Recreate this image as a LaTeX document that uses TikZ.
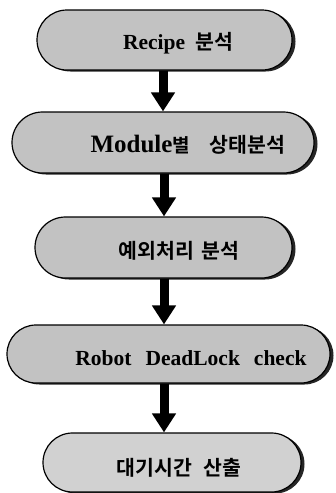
\documentclass[tikz,border=0pt]{standalone}
\usepackage{fontspec}
\setmainfont{Liberation Serif}
\newfontfamily\kr{Noto Sans CJK KR}[BoldFont={* Bold}]
\newcommand\krtxt[1]{{\kr\bfseries\fontsize{19}{19}\selectfont #1}}
\newcommand\krbig[1]{{\kr\bfseries\fontsize{20.5}{20.5}\selectfont #1}}
\usetikzlibrary{shapes.misc,shadows,arrows.meta}
\begin{document}
\begin{tikzpicture}[x=1pt,y=-1pt,
  stadium/.style={rounded rectangle, draw=black, line width=1.2pt, fill=black!24, inner sep=0pt,
     drop shadow={shadow xshift=3.5pt, shadow yshift=-1.5pt, fill=black!85, opacity=1}},
  lbl/.style={inner sep=0pt, font=\bfseries\fontsize{21.5}{21.5}\selectfont},
  bigarrow/.style={line width=9pt, -{Triangle[width=23pt,length=19pt]}, draw=black}]
\useasboundingbox (0,0) rectangle (335,493);
\node[stadium, minimum width=255pt, minimum height=60pt] (b1) at (164.5,40) {};
\node[stadium, minimum width=302pt, minimum height=61pt] (b2) at (163,142.5) {};
\node[stadium, minimum width=257pt, minimum height=61pt] (b3) at (163.5,247.5) {};
\node[stadium, minimum width=323pt, minimum height=58pt] (b4) at (168.5,354) {};
\node[stadium, minimum width=258pt, minimum height=59pt, fill=black!18] (b5) at (172,462.5) {};
\node[lbl] (t1) at (178,43) {Recipe\hspace{10pt}\krbig{분석}};
\node[lbl, font=\bfseries\fontsize{25}{25}\selectfont] (t2) at (188,145) {Module\krtxt{별}\hspace{20pt}\krbig{상태분석}};
\node[lbl] (t3) at (179,251) {\krbig{예외처리\hspace{8pt}분석}};
\node[lbl] (t4) at (191,358) {Robot\hspace{14pt}DeadLock\hspace{14pt}check};
\node[lbl] (t5) at (179,468) {\krbig{대기시간\hspace{12pt}산출}};
\coordinate (ax) at (164,0);
\draw[bigarrow] (163,0 |- b1.south) -- (163,0 |- b2.north);
\draw[bigarrow] (ax |- b2.south) -- (ax |- b3.north);
\draw[bigarrow] (ax |- b3.south) -- (ax |- b4.north);
\draw[bigarrow] (ax |- b4.south) -- (ax |- b5.north);
\end{tikzpicture}
\end{document}
